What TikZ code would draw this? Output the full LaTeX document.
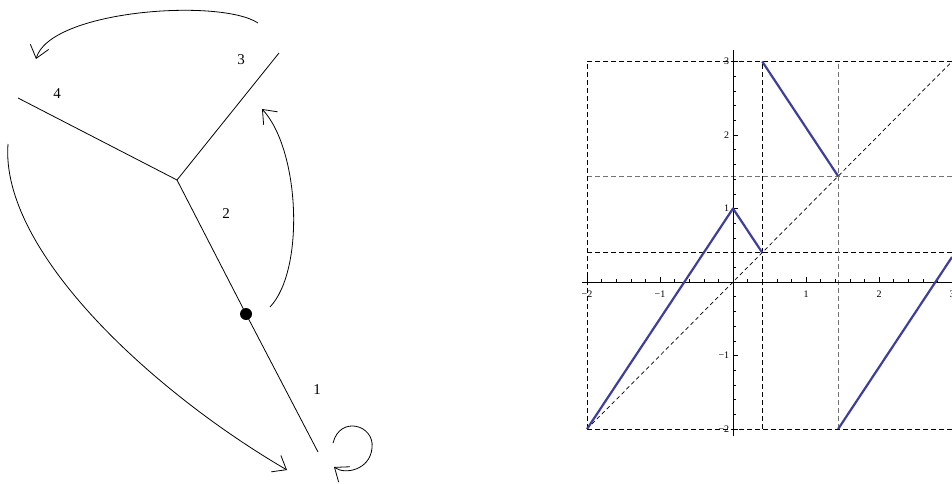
\documentclass[tikz,border=0pt]{standalone}
\usepackage{fontspec}
\setmainfont{Liberation Serif}
\usetikzlibrary{arrows.meta}
\definecolor{plotblue}{RGB}{62,62,156}
\definecolor{dgray}{RGB}{115,115,115}
\begin{document}
\begin{tikzpicture}[x=1pt,y=-1pt,
  edge/.style={line width=0.8pt},
  arr/.style={line width=0.8pt,-{Straight Barb[length=12pt,width=19pt,line width=0.8pt]}},
  lab/.style={font=\fontsize{15}{15}\selectfont, inner sep=0pt},
  tickl/.style={font=\fontsize{10}{10}\selectfont, inner sep=0pt},
  dashline/.style={line width=0.8pt, dash pattern=on 5pt off 3pt},
  diagline/.style={line width=0.7pt, dash pattern=on 4pt off 3pt},
  curve/.style={line width=2.2pt, plotblue, line join=round},
  axis/.style={line width=0.8pt},
  tk/.style={line width=0.5pt}]
\useasboundingbox (0,0) rectangle (952,484);

% ---- left graph ----
\coordinate (c) at (177,180);
\coordinate (n4) at (18,98);
\coordinate (n3) at (279,53);
\coordinate (n1) at (318,452);
\node[circle,fill,inner sep=0pt,minimum size=12pt] (dot) at (246,314) {};
\draw[edge] (n4) -- (c) -- (n3);
\draw[edge] (c) -- (dot.center) -- (n1);

\node[lab] (l4) at (57,94) {4};
\node[lab] (l3) at (241,60) {3};
\node[lab] (l2) at (226,214) {2};
\node[lab] (l1) at (317,390) {1};

% arrows
\coordinate (a1s) at (258,23);
\coordinate (a1e) at (36,59);
\draw[arr] (a1s) .. controls (220,-2) and (50,10) .. (a1e);

\coordinate (a2s) at (270,307);
\coordinate (a2e) at (262,109);
\draw[arr] (a2s) .. controls (305,270) and (300,150) .. (a2e);

\coordinate (a3s) at (8,144);
\coordinate (a3e) at (287,470);
\draw[arr] (a3s) .. controls (0,250) and (150,390) .. (a3e);

\coordinate (a4s) at (333,443);
\coordinate (a4m) at (372,448);
\coordinate (a4e) at (334,467);
\draw[arr] (a4s) .. controls (340,415) and (375,425) .. (a4m) .. controls (370,470) and (345,475) .. (a4e);

% ---- right plot ----
\begin{scope}[shift={(733pt,-282pt)},x=73pt,y=73.5pt]
  % dashed guide lines
  \draw[dashline] (-2,3) -- (3.1,3);
  \draw[dashline,dgray] (-2,1.44) -- (3.1,1.44);
  \draw[dashline] (-2,0.4) -- (3.1,0.4);
  \draw[dashline] (-2,-2) -- (3.1,-2);
  \draw[dashline] (-2,-2) -- (-2,3);
  \draw[dashline] (0.4,-2) -- (0.4,3);
  \draw[dashline,dgray] (1.44,-2) -- (1.44,3);
  \draw[diagline] (-2,-2) -- (3,3);
  % axes
  \draw[axis] (-2.07,0) -- (3.05,0);
  \draw[axis] (0,-2.1) -- (0,3.16);
  \foreach \k in {-10,...,15} {
    \draw[tk] (\k/5,0) -- (\k/5,0.04);
    \draw[tk] (0,\k/5) -- (0.04,\k/5);
  }
  \foreach \k in {-2,...,3} {
    \draw[tk] (\k,0) -- (\k,0.07);
    \draw[tk] (0,\k) -- (0.07,\k);
  }
  \node[tickl] (xm2) at (-2,-0.16) {−2};
  \node[tickl] (xm1) at (-1,-0.16) {−1};
  \node[tickl] (xp1) at (1,-0.16) {1};
  \node[tickl] (xp2) at (2,-0.16) {2};
  \node[tickl] (xp3) at (3,-0.16) {3};
  \node[tickl,anchor=east] (yp3) at (-0.05,3) {3};
  \node[tickl,anchor=east] (yp2) at (-0.05,2) {2};
  \node[tickl,anchor=east] (yp1) at (-0.05,1) {1};
  \node[tickl,anchor=east] (ym1) at (-0.05,-1) {−1};
  \node[tickl,anchor=east] (ym2) at (-0.05,-2) {−2};
  % function
  \draw[curve] (-2,-2) -- (0,1) -- (0.4,0.4);
  \draw[curve] (0.4,3) -- (1.44,1.44);
  \draw[curve] (1.44,-2) -- (3,0.34);
\end{scope}
\end{tikzpicture}
\end{document}
